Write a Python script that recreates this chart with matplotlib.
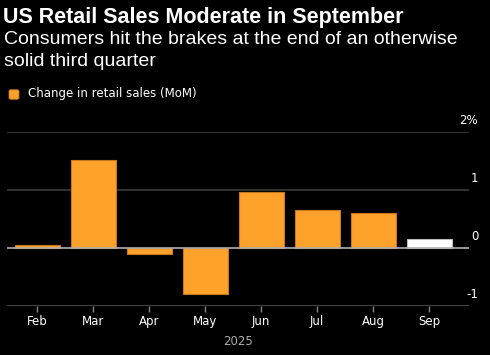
import matplotlib
matplotlib.use("Agg")
import matplotlib.pyplot as plt
from matplotlib.patches import FancyBboxPatch

# Data
months = ["Feb", "Mar", "Apr", "May", "Jun", "Jul", "Aug", "Sep"]
change = [0.04, 1.52, -0.11, -0.79, 0.97, 0.65, 0.60, 0.16]
bar_colors = ["#FFA22B"] * 7 + ["#FFFFFF"]
edge_colors = ["#C8781A"] * 7 + ["#BBBBBB"]
ytick_vals = [2, 1, 0, -1]
ytick_labels = ["2%", "1", "0", "-1"]

fig = plt.figure(figsize=(4.9, 3.55), dpi=100, facecolor="black")
ax = fig.add_axes([7 / 490, 49.3 / 355, 462 / 490, 173.7 / 355])
ax.set_facecolor("black")

x = list(range(len(months)))
ax.bar(x, change, width=0.8, color=bar_colors, edgecolor=edge_colors,
       linewidth=0.8, zorder=3)

ax.set_xlim(-0.54, 7.71)
ax.set_ylim(-1, 2)

# horizontal grid lines
for v in ytick_vals:
    col = "#B0B0B0" if v == 0 else ("#555555" if v == -1 else "#3A3A3A")
    ax.axhline(v, color=col, linewidth=1.2, zorder=2 if v != 0 else 4)

# y labels on the right, sitting just above each line
for v, lab in zip(ytick_vals, ytick_labels):
    ax.text(1.02, v + 0.2, lab, transform=ax.get_yaxis_transform(),
            ha="right", va="center", color="white", fontsize=8.5)

for s in ax.spines.values():
    s.set_visible(False)
ax.set_yticks([])
ax.set_xticks(x)
ax.set_xticklabels(months, color="white", fontsize=8.5)
ax.tick_params(axis="x", colors="#888888", length=4, width=1, pad=3,
               labelcolor="white")
ax.text(0.5, -0.205, "2025", transform=ax.transAxes, ha="center", va="center",
        color="#AAAAAA", fontsize=8.5)

# title and subtitle
fig.text(3 / 490, 1 - 17 / 355, "US Retail Sales Moderate in September",
         color="white", fontsize=15.5, fontweight="bold", va="center",
         family="Liberation Sans")
fig.text(4 / 490, 1 - 40 / 355,
         "Consumers hit the brakes at the end of an otherwise",
         color="white", fontsize=14, va="center", family="Liberation Sans")
fig.text(4 / 490, 1 - 62 / 355, "solid third quarter",
         color="white", fontsize=14, va="center", family="Liberation Sans")

# legend
fig.patches.append(FancyBboxPatch((10 / 490, 1 - 98.5 / 355), 8 / 490, 8 / 355,
                                  boxstyle="round,pad=0.002,rounding_size=0.004",
                                  transform=fig.transFigure, facecolor="#FFA22B",
                                  edgecolor="#C8781A", linewidth=0.6))
fig.text(28 / 490, 1 - 94 / 355, "Change in retail sales (MoM)",
         color="white", fontsize=8.5, va="center")

fig.savefig("out.png", dpi=100, facecolor="black")
